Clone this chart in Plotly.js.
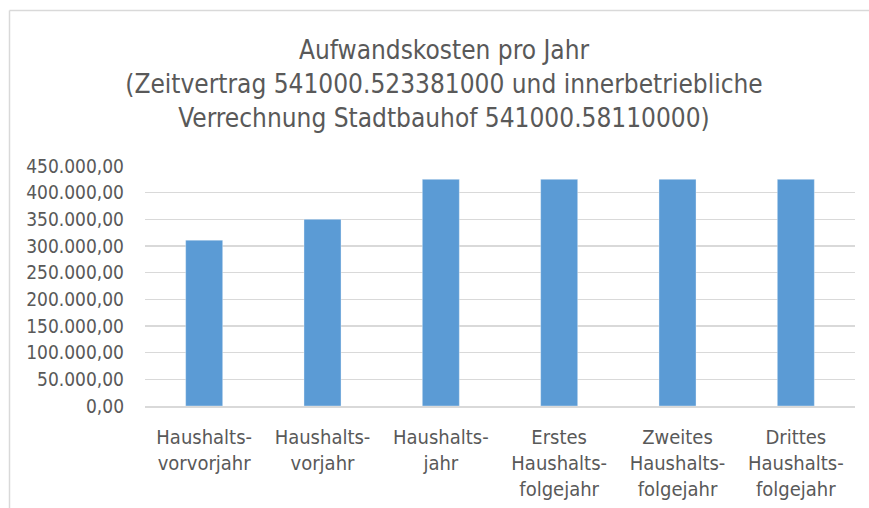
<!DOCTYPE html>
<html>
<head>
<meta charset="utf-8">
<script src="https://cdn.plot.ly/plotly-3.0.1.min.js"></script>
<style>html,body{margin:0;padding:0;background:#fff;}#chart{width:869px;height:508px;}</style>
</head>
<body>
<div id="chart"></div>
<script>
const categories = [
  "Haushalts-<br>vorvorjahr",
  "Haushalts-<br>vorjahr",
  "Haushalts-<br>jahr",
  "Erstes<br>Haushalts-<br>folgejahr",
  "Zweites<br>Haushalts-<br>folgejahr",
  "Drittes<br>Haushalts-<br>folgejahr"
];
const values = [311000, 350000, 425000, 425000, 425000, 425000];
const yTicks = [0, 50000, 100000, 150000, 200000, 250000, 300000, 350000, 400000, 450000];
const titleLines = [
  "Aufwandskosten pro Jahr",
  "(Zeitvertrag 541000.523381000 und innerbetriebliche",
  "Verrechnung Stadtbauhof 541000.58110000)"
];

const FONT = '"DejaVu Sans Condensed", "Open Sans", sans-serif';
const W = 869, H = 508;
const m = {l: 145, r: 14, t: 166, b: 102};
const pw = W - m.l - m.r, ph = H - m.t - m.b;
const px = v => (v - m.l) / pw;
const py = v => 1 + (m.t - v) / ph;

const trace = {
  type: 'bar',
  x: categories,
  y: values,
  marker: {color: '#5b9bd5', line: {color: 'rgba(255,255,255,0.35)', width: 1}},
  hoverinfo: 'x+y'
};

const layout = {
  width: W, height: H,
  margin: m,
  paper_bgcolor: '#ffffff',
  plot_bgcolor: '#ffffff',
  separators: ',.',
  bargap: 0.687,
  showlegend: false,
  font: {family: FONT, color: '#595959', size: 18},
  title: {
    text: titleLines.join('<br>'),
    font: {family: FONT, size: 26, color: '#595959'},
    x: 444 / W, xref: 'container', xanchor: 'center',
    y: 1 - 59 / H, yref: 'container', yanchor: 'middle'
  },
  xaxis: {
    type: 'category',
    showgrid: false,
    showline: true, linecolor: '#d9d9d9', linewidth: 1.5,
    ticks: '',
    ticklabelstandoff: 12,
    tickfont: {family: FONT, size: 20, color: '#595959'},
    automargin: false
  },
  yaxis: {
    range: [0, 450000],
    tickvals: yTicks,
    tickformat: ',.2f',
    showgrid: true, gridcolor: '#d9d9d9', gridwidth: 1.3,
    zeroline: false,
    showline: false,
    ticks: '',
    ticklabelstandoff: 20,
    tickfont: {family: FONT, size: 19, color: '#595959'},
    automargin: false
  },
  shapes: [
    {type: 'line', xref: 'paper', yref: 'paper', x0: px(9.5), x1: px(869), y0: py(10.5), y1: py(10.5), line: {color: '#d9d9d9', width: 1.5}},
    {type: 'line', xref: 'paper', yref: 'paper', x0: px(9.5), x1: px(9.5), y0: py(10.5), y1: py(508), line: {color: '#d9d9d9', width: 1.5}}
  ]
};

Plotly.newPlot('chart', [trace], layout, {displayModeBar: false, staticPlot: true});
</script>
</body>
</html>
